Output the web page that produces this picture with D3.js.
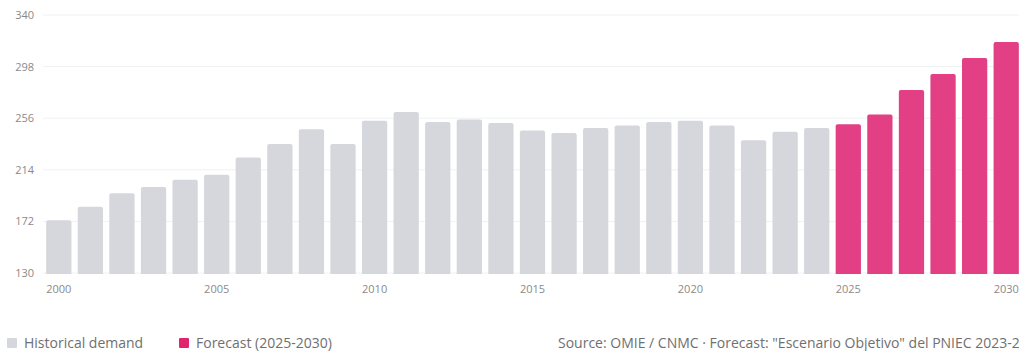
<!DOCTYPE html>
<html>
<head>
<meta charset="utf-8">
<script src="https://cdn.jsdelivr.net/npm/d3@7"></script>
<style>
  body { margin: 0; background: #fff; overflow: hidden; }
  svg text { font-family: "Open Sans", sans-serif; }
</style>
</head>
<body>
<div id="svg-area"></div>
<script>
// data
const years = d3.range(2000, 2031).map(String);
const demandValues = [
    173, 184, 195, 200, 206, 210, 224, 235, 247, 235,
    254, 261, 253, 255, 252, 246, 244, 248, 250, 253,
    254, 250, 238, 245, 248,
    251, 259, 279, 292, 305, 318
];
const firstForecastYear = "2025";
const yTickValues = [130, 172, 214, 256, 298, 340];
const xTickLabels = ["2000", "2005", "2010", "2015", "2020", "2025", "2030"];
const legendLabels = ["Historical demand", "Forecast (2025-2030)"];
const sourceText = "Source: OMIE / CNMC \u00b7 Forecast: \"Escenario Objetivo\" del PNIEC 2023-2030";

// svg container
const svgWidth = 1019;
const svgHeight = 351;

// margins
const margin = { top: 15, right: 0, bottom: 78, left: 43 };

const chartHeight = svgHeight - margin.top - margin.bottom;
const chartWidth = svgWidth - margin.left - margin.right;

const grayColor = "#d5d7dc";
const pinkColor = "#e33f84";

const svg = d3.select("#svg-area").append("svg")
    .attr("height", svgHeight)
    .attr("width", svgWidth);

const chartGroup = svg.append("g")
    .attr("transform", `translate(${margin.left}, ${margin.top})`);

// scales
let yScale = d3.scaleLinear()
    .domain([130, 340])
    .range([chartHeight, 0]);

let xScale = d3.scaleBand()
    .domain(years)
    .range([0, chartWidth + 3])
    .paddingInner(0.2)
    .paddingOuter(0.1);

// grid lines
chartGroup.selectAll(".grid")
    .data(yTickValues)
    .enter()
    .append("line")
    .attr("x1", 0)
    .attr("x2", chartWidth)
    .attr("y1", d => yScale(d))
    .attr("y2", d => yScale(d))
    .attr("stroke", "#f0f1f3")
    .attr("stroke-width", 1);

// y axis
let yAxis = d3.axisLeft(yScale)
    .tickValues(yTickValues)
    .tickSize(0)
    .tickPadding(9);

chartGroup.append("g")
    .call(yAxis)
    .call(g => g.select(".domain").remove())
    .selectAll("text")
    .attr("fill", "#8a8a8a")
    .style("font-size", "11px");

// x axis
let xAxis = d3.axisBottom(xScale)
    .tickValues(xTickLabels)
    .tickSize(0)
    .tickPadding(12);

chartGroup.append("g")
    .attr("transform", `translate(0, ${chartHeight})`)
    .call(xAxis)
    .call(g => g.select(".domain").remove())
    .selectAll("text")
    .attr("fill", "#8a8a8a")
    .style("font-size", "11px");

// bars with rounded top corners
function barPath(d, i) {
    const x = xScale(years[i]);
    const w = xScale.bandwidth();
    const y = yScale(d);
    const y0 = yScale(130) + 1;
    const r = 2;
    return `M${x},${y0}V${y + r}Q${x},${y} ${x + r},${y}H${x + w - r}Q${x + w},${y} ${x + w},${y + r}V${y0}Z`;
}

chartGroup.selectAll(".bar")
    .data(demandValues)
    .enter()
    .append("path")
    .classed("bar", true)
    .attr("d", barPath)
    .attr("fill", (d, i) => years[i] >= firstForecastYear ? pinkColor : grayColor);

// legend
const legendX = [7, 179];
const legendColors = [grayColor, "#e2246f"];
const legend = svg.selectAll(".legend")
    .data(legendLabels)
    .enter()
    .append("g")
    .attr("transform", (d, i) => `translate(${legendX[i]}, 338)`);

legend.append("rect")
    .attr("width", 10)
    .attr("height", 10)
    .attr("rx", 1)
    .attr("fill", (d, i) => legendColors[i]);

legend.append("text")
    .attr("x", 17)
    .attr("y", 10)
    .attr("fill", "#6f6f6f")
    .style("font-size", "14px")
    .text(d => d);

// source
svg.append("text")
    .attr("x", 558)
    .attr("y", 348)
    .attr("fill", "#6f6f6f")
    .style("font-size", "14px")
    .text(sourceText);
</script>
</body>
</html>
